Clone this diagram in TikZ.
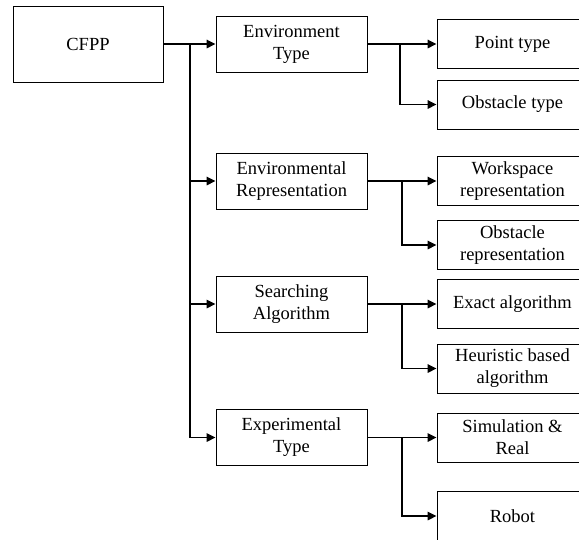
\documentclass[tikz,border=0pt]{standalone}
\usepackage{fontspec}
\setmainfont{Liberation Serif}
\usetikzlibrary{arrows.meta}

\tikzset{
  box/.style={draw, line width=0.9pt, align=center, inner sep=0pt,
              font=\fontsize{18.5}{22}\selectfont},
  rootbox/.style={box, minimum width=150pt, minimum height=76pt},
  midbox/.style={box, minimum width=151pt, minimum height=56pt},
  leafbox/.style={box, minimum width=151pt, minimum height=49pt},
  conn/.style={line width=1.6pt, -{Triangle[length=9pt,width=8.5pt]}},
  trunk/.style={line width=1.6pt}
}

\begin{document}
\begin{tikzpicture}[x=1pt, y=-1pt]
  \useasboundingbox (0,0) rectangle (579,539);
  \clip (0,0) rectangle (579,539);

  % root
  \node[rootbox] (cfpp) at (88,44) {CFPP};

  % second level
  \node[midbox] (etype) at (291.5,44)  {Environment\\Type};
  \node[midbox] (erep)  at (291.5,181) {Environmental\\Representation};
  \node[midbox] (salg)  at (291.5,304) {Searching\\Algorithm};
  \node[midbox] (xtype) at (291.5,437.5) {Experimental\\Type};

  % leaves
  \node[leafbox] (point) at (512.5,44)    {Point type};
  \node[leafbox] (obst)  at (512.5,104.5) {Obstacle type};
  \node[leafbox] (wsrep) at (512.5,181)   {Workspace\\representation};
  \node[leafbox] (obrep) at (512.5,245)   {Obstacle\\representation};
  \node[leafbox] (exact) at (512.5,304)   {Exact algorithm};
  \node[leafbox] (heur)  at (512.5,368.5) {Heuristic based\\algorithm};
  \node[leafbox] (simr)  at (512.5,437.5) {Simulation \&\\Real};
  \node[leafbox] (robot) at (512.5,516)   {Robot};

  % trunk from the root
  \coordinate (t0) at (190,44);
  \coordinate (t1) at (190,181);
  \coordinate (t2) at (190,304);
  \coordinate (t3) at (190,437.5);
  \draw[conn] (cfpp.east) -- (etype.west);
  \draw[trunk] (t0) -- (t3);
  \draw[conn] (t1) -- (erep.west);
  \draw[conn] (t2) -- (salg.west);
  \draw[conn] (t3) -- (xtype.west);

  % branches to the leaves
  \coordinate (b0) at (400,44);
  \coordinate (b1) at (402,181);
  \coordinate (b2) at (402,304);
  \coordinate (b3) at (402,437.5);
  \draw[conn] (etype.east) -- (point.west);
  \draw[conn] (b0) |- (obst.west);
  \draw[conn] (erep.east) -- (wsrep.west);
  \draw[conn] (b1) |- (obrep.west);
  \draw[conn] (salg.east) -- (exact.west);
  \draw[conn] (b2) |- (heur.west);
  \draw[conn] (xtype.east) -- (simr.west);
  \draw[conn] (b3) |- (robot.west);
\end{tikzpicture}
\end{document}
